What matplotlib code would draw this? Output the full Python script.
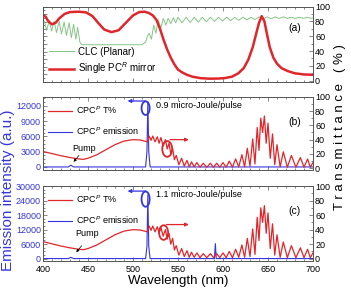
import matplotlib
matplotlib.use("Agg")
import matplotlib.pyplot as plt
from matplotlib.patches import Ellipse
from matplotlib.ticker import MultipleLocator

plt.rcParams["font.family"] = ["Liberation Sans", "DejaVu Sans"]
plt.rcParams["mathtext.fontset"] = "custom"
plt.rcParams["mathtext.it"] = "Liberation Sans:italic"
plt.rcParams["mathtext.rm"] = "Liberation Sans"

# panel (a): single PC^R mirror transmittance
wl_mirror = [400, 403, 406, 410, 414, 418, 424, 430, 440, 448, 455, 462, 468, 476,
             484, 492, 500, 507, 513, 518, 522, 526, 530, 534, 538, 542, 546, 550,
             555, 560, 566, 575, 585, 595, 602, 610, 617, 623, 628, 633, 637, 640,
             643, 646, 649, 652, 656, 660, 665, 672, 680, 690, 700]
t_mirror = [89, 86, 80, 76, 78, 84, 90, 92.5, 93, 92, 87, 77, 69, 65.5,
            68, 78, 88, 92.5, 93, 91, 88, 82, 70, 55, 42, 31, 22, 15,
            11, 8, 5.5, 3.5, 2.8, 3, 3.6, 5.5, 10, 17, 28, 45, 64, 78,
            87, 80, 62, 45, 31, 23, 17, 13, 10, 8.5, 8]

# panel (a): CLC (planar) transmittance
wl_clc = [400, 401.5, 404, 407, 409.5, 412.5, 415, 418, 420.5, 423.5, 426, 429,
          431.5, 434, 436.5, 438.5, 441, 443, 510, 514, 516, 518, 520.5, 523,
          525.5, 528, 531, 533.7, 536.5, 539, 542, 544.8, 547.5, 550, 554.5, 559,
          563.5, 568, 572.5, 577, 581.5, 586, 590.5, 595, 599.5, 604, 608.5, 613,
          617.5, 622, 626.5, 631, 635.5, 640, 644.5, 649, 653.5, 658, 662.5, 667,
          671.5, 676, 680.5, 685, 689.5, 694, 698.5, 700]
t_clc = [76, 80, 68, 81, 67, 80, 65, 80, 63, 79, 61, 78,
         58, 76, 56, 72, 52, 48.5, 48.5, 52, 60, 64, 56, 75,
         64, 82, 71, 84, 75, 84, 77, 85, 78, 85.5, 78, 85.5,
         78.5, 85.5, 79, 85.5, 79.5, 85.5, 80, 85.5, 80.5, 85.5, 81, 85.5,
         81.5, 85.5, 82, 85.5, 82.5, 86, 83, 86, 83.5, 86, 84, 86,
         84, 85.5, 84, 85.5, 84, 85.5, 84, 85]

# panels (b), (c): CPC^P transmittance
wl_cpc = [400, 410, 420, 430, 440, 445, 450, 460, 470, 480, 490, 500, 508, 516,
          518, 520, 522, 524.5, 527, 529, 531, 533.5, 536, 538, 540, 542, 544,
          546, 548, 551, 554, 557, 560, 562.5, 565, 568, 571, 574.5, 578, 582,
          586, 589.5, 593, 596.5, 600, 603.5, 607, 610.5, 614, 617.5, 621, 624,
          627, 630, 633, 635.5, 638, 640, 642, 644, 646, 648, 650, 652.5, 655,
          657.5, 660, 663.5, 667, 671.5, 676, 681, 686, 690, 694, 697, 700]
t_cpc = [23.5, 20.5, 17.5, 15, 13, 12.5, 14, 19, 26, 33, 38, 40, 39.5, 37,
         45, 39, 45, 37, 44, 35, 43, 31, 40, 27, 35, 20, 28,
         12, 18, 5, 14, 3, 11, 2, 9, 2, 8, 1.5, 7, 1.5,
         7, 1.5, 7, 1.5, 8, 1.5, 10, 1.5, 13, 2, 19, 2,
         28, 3, 41, 6, 57, 25, 70, 50, 73, 35, 63, 14, 48,
         5, 33, 2, 23, 1.5, 18, 1.5, 15, 1.5, 13, 1.5, 8]

# emission spectra
wl_em_b = [400, 428, 431, 434, 514, 515.5, 516.5, 517.5, 519, 700]
em_b = [0, 0, 350, 0, 0, 3000, 12800, 3000, 0, 0]
wl_em_c = [400, 428, 431, 434, 514, 515.5, 516.5, 517.5, 519, 590.5, 591.5, 592.5, 700]
em_c = [0, 0, 500, 0, 0, 5000, 26300, 5000, 0, 0, 6200, 0, 0]

RED = "#e0262b"
BLUE = "#3535e0"
GREEN = "#86c486"
SPINE = "#555555"

fig = plt.figure(figsize=(3.51, 2.90), dpi=100)
L, W = 43 / 351, 270 / 351
ax_a = fig.add_axes([L, 1 - 81.5 / 290, W, 75 / 290])
ax_b = fig.add_axes([L, 1 - 170 / 290, W, 73.3 / 290])
ax_c = fig.add_axes([L, 1 - 260.5 / 290, W, 74.5 / 290])


def style(ax, blue=False):
    ax.set_xlim(400, 700)
    ax.xaxis.set_major_locator(MultipleLocator(50))
    ax.xaxis.set_minor_locator(MultipleLocator(10))
    ax.tick_params(which="both", direction="in", top=True, labelsize=6.5,
                   pad=1.5, color=SPINE, width=0.5)
    ax.tick_params(axis="x", pad=3)
    ax.tick_params(which="major", length=3)
    ax.tick_params(which="minor", length=1.5)
    if blue:
        ax.tick_params(axis="y", labelcolor=BLUE)
    for s in ax.spines.values():
        s.set_color(SPINE)
        s.set_linewidth(0.6)


def right_axis(ax, lo):
    tw = ax.twinx()
    tw.set_ylim(lo, 100)
    tw.yaxis.set_major_locator(MultipleLocator(20))
    tw.yaxis.set_minor_locator(MultipleLocator(10))
    tw.tick_params(which="both", direction="in", labelsize=6.5, pad=1.5,
                   color=SPINE, width=0.5)
    tw.tick_params(which="major", length=3)
    tw.tick_params(which="minor", length=1.5)
    for s in tw.spines.values():
        s.set_color(SPINE)
        s.set_linewidth(0.6)
    return tw


# (a)
style(ax_a)
ax_a.set_ylim(0, 1)
ax_a.yaxis.set_minor_locator(MultipleLocator(0.05))
ax_a.yaxis.set_major_locator(MultipleLocator(0.1))
ax_a.tick_params(axis="y", labelleft=False)
ax_a.tick_params(axis="x", labelbottom=False)
ta = right_axis(ax_a, -1)
l1, = ta.plot(wl_clc, t_clc, color=GREEN, lw=0.7, label="CLC (Planar)")
l2, = ta.plot(wl_mirror, t_mirror, color=RED, lw=1.8, label="Single PC$^R$ mirror")
ta.legend(handles=[l1, l2], loc="lower left", bbox_to_anchor=(0.0, -0.01),
          frameon=False, fontsize=7, handlelength=2.6, labelspacing=0.4,
          handletextpad=0.4, borderaxespad=0.2)
ta.text(0.955, 0.71, "(a)", transform=ta.transAxes, fontsize=7.5,
        ha="right", va="center")


def emission_panel(ax, wl_em, em, ylim, yticks, energy, tag, blue_e, red_e, arrow_y,
                   pump_xy, pump_tip):
    style(ax, blue=True)
    ax.set_ylim(*ylim)
    ax.set_yticks(yticks)
    ax.yaxis.set_minor_locator(MultipleLocator(yticks[1] / 4))
    le, = ax.plot(wl_em, em, color=BLUE, lw=0.8, label="CPC$^{P}$ emission")
    tw = right_axis(ax, -2.4)
    lt, = tw.plot(wl_cpc, t_cpc, color=RED, lw=0.9, label="CPC$^{P}$ T%")
    tw.legend(handles=[lt, le], loc="upper left", bbox_to_anchor=(0.0, 0.97),
              frameon=False, fontsize=6.5, handlelength=2.6, labelspacing=1.0,
              handletextpad=0.4, borderaxespad=0.2)
    tw.text(526, 88, energy, fontsize=6.5, va="center")
    tw.text(0.955, 0.66, tag, transform=tw.transAxes, fontsize=7.5,
            ha="right", va="center")
    tw.add_patch(Ellipse(blue_e[:2], blue_e[2], blue_e[3], fill=False,
                         ec=BLUE, lw=1.3))
    tw.annotate("", xy=(494, arrow_y[0]), xytext=(blue_e[0], arrow_y[0]),
                arrowprops=dict(arrowstyle="-|>", color=BLUE, lw=0.9,
                                mutation_scale=5, shrinkA=0, shrinkB=0))
    tw.add_patch(Ellipse(red_e[:2], red_e[2], red_e[3], fill=False,
                         ec=RED, lw=1.3))
    tw.annotate("", xy=(562, arrow_y[1]), xytext=(red_e[0] + 3, arrow_y[1]),
                arrowprops=dict(arrowstyle="-|>", color=RED, lw=0.9,
                                mutation_scale=5, shrinkA=0, shrinkB=0))
    tw.text(pump_xy[0], pump_xy[1], "Pump", fontsize=6.5, ha="center", va="bottom")
    tw.annotate("", xy=pump_tip, xytext=(pump_tip[0] + 6, pump_tip[1] + 9),
                arrowprops=dict(arrowstyle="-|>", color="black", lw=0.5,
                                mutation_scale=4, shrinkA=0, shrinkB=0))
    return tw


emission_panel(ax_b, wl_em_b, em_b, (-600, 13800), [0, 3000, 6000, 9000, 12000],
               "0.9 micro-Joule/pulse", "(b)", (514, 84, 9, 19), (538, 27, 11, 22),
               (94, 40), (446, 22), (434, 9))
ax_b.tick_params(axis="x", labelbottom=False)
emission_panel(ax_c, wl_em_c, em_c, (-800, 30000), [0, 6000, 12000, 18000, 24000, 30000],
               "1.1 micro-Joule/pulse", "(c)", (514, 82, 9, 21), (534, 36, 10, 20),
               (93, 47), (449, 28), (437, 9))
ax_c.set_xlabel("Wavelength (nm)", fontsize=9.5, labelpad=1)

fig.text(0.022, 1 - 190 / 290, "Emission intensity (a.u.)", rotation=90,
         fontsize=11, color=BLUE, ha="center", va="center")
fig.text(0.968, 1 - 127 / 290, "T r a n s m i t t a n c e   ( % )", rotation=90,
         fontsize=9.5, ha="center", va="center")

fig.savefig("out.png", dpi=100)
